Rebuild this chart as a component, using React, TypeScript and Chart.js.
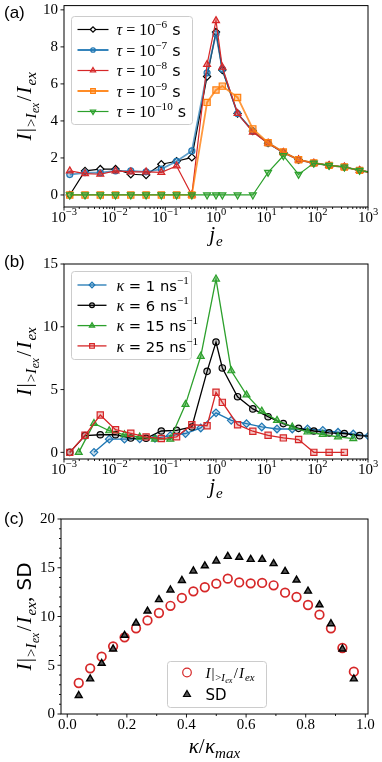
import React, { useEffect, useRef } from 'react';
import { Chart, registerables } from 'chart.js';
import { drawPoint } from 'chart.js/helpers';

Chart.register(...registerables);

// ---------------- data ----------------
// j_e grid used by most series (4/3 * 2^k plus j_e = 1)
const jeA = [0.0013, 0.0026, 0.0052, 0.0104, 0.0208, 0.0417, 0.0833, 0.1667, 0.3333, 0.6667, 1.0, 1.3333,
  2.6667, 5.3333, 10.667, 21.333, 42.667, 85.333, 170.67, 341.33, 682.67, 1365.3];
// power-of-two grids (panel b)
const jeB = [0.00390625, 0.0078125, 0.015625, 0.03125, 0.0625, 0.125, 0.25, 0.5, 1, 2, 4, 8, 16, 32, 64, 128, 256, 512, 1024];
const jeG = [0.001953125, 0.00390625, 0.0078125, 0.015625, 0.03125, 0.0625, 0.125, 0.25, 0.5, 1, 2, 4, 8, 16, 32, 64, 128, 256, 512];

// panel (a)
const tau6 = [0, 1.3, 1.4, 1.4, 1.12, 1.08, 1.66, 1.82, 2.03, 6.4, 8.8, 6.75, 4.4, 3.45, 2.8, 2.3, 1.9, 1.72, 1.6, 1.51, 1.33, 1.17];
const tau7 = [1.1, 1.2, 1.2, 1.3, 1.3, 1.25, 1.4, 1.82, 2.38, 6.6, 8.7, 6.8, 4.4, 3.45, 2.8, 2.3, 1.9, 1.72, 1.6, 1.51, 1.33, 1.17];
const tau8 = [1.3, 1.15, 1.12, 1.3, 1.25, 1.25, 1.22, 1.57, 0, 7.05, 9.42, 6.9, 4.4, 3.4, 2.8, 2.3, 1.9, 1.72, 1.6, 1.51, 1.33, 1.17];
const tau9 = [0, 0, 0, 0, 0, 0, 0, 0, 0, 5.0, 5.67, 5.88, 5.27, 3.57, 2.82, 2.32, 1.9, 1.73, 1.6, 1.51, 1.33, 1.17];
const tau10 = [0, 0, 0, 0, 0, 0, 0, 0, 0, 0, 0, 0, 0, 0, 1.22, 2.12, 1.11, 1.72, 1.6, 1.51, 1.33, 1.17];
const tauExponents = ['−6', '−7', '−8', '−9', '−10'];

// panel (b)
const kap1 = [0, 1.05, 1.05, 1.08, 1.12, 1.33, 1.5, 1.94, 3.15, 2.55, 2.28, 2.02, 1.86, 1.86, 1.86, 1.75, 1.6, 1.46, 1.3];
const kap6 = [0, 1.33, 1.4, 1.41, 1.14, 1.12, 1.7, 1.75, 2.02, 6.45, 8.78, 6.72, 4.43, 3.46, 2.84, 2.29, 1.91, 1.7, 1.55, 1.5, 1.33, 1.25];
const kap15 = [0, 2.3, 1.72, 1.4, 1.22, 1.05, 1.05, 3.82, 7.65, 13.8, 6.5, 4.58, 3.28, 2.55, 2.02, 1.62, 1.42, 1.24, 1.1];
const kap25 = [0, 1.36, 2.97, 1.8, 1.52, 1.23, 1.1, 1.24, 2.2, 2.12, 4.78, 3.98, 2.2, 1.68, 1.36, 1.15, 1.02, 0, 0, 0];
const kappaValues = ['1', '6', '15', '25'];

// panel (c)
const kRel = [0.0385, 0.0769, 0.1154, 0.1538, 0.1923, 0.2308, 0.2692, 0.3077, 0.3462, 0.3846, 0.4231, 0.4615, 0.5,
  0.5385, 0.5769, 0.6154, 0.6538, 0.6923, 0.7308, 0.7692, 0.8077, 0.8462, 0.8846, 0.9231, 0.9615];
const ratioC = [3.18, 4.68, 5.88, 6.94, 7.86, 8.79, 9.6, 10.36, 11.1, 11.9, 12.58, 13.0, 13.37, 13.88, 13.5, 13.4,
  13.44, 13.2, 12.44, 12.0, 11.18, 10.19, 8.79, 6.77, 4.34];
const sdC = [1.9, 3.6, 5.2, 6.67, 8.07, 9.33, 10.56, 11.73, 12.72, 13.7, 14.67, 15.2, 15.7, 16.17, 16.07, 15.86,
  15.86, 15.42, 14.63, 13.74, 12.6, 11.2, 9.26, 6.67, 3.6];

// ticks
const logTickValues = [0.001, 0.01, 0.1, 1, 10, 100, 1000];
const logTickExponents = ['−3', '−2', '−1', '0', '1', '2', '3'];
const yTicksA = [0, 2, 4, 6, 8, 10];
const yTicksB = [0, 5, 10, 15];
const yTicksC = [0, 5, 10, 15, 20];
const xTicksC = [0, 0.2, 0.4, 0.6, 0.8, 1.0];
const xTickLabelsC = ['0.0', '0.2', '0.4', '0.6', '0.8', '1.0'];

// ---------------- text helpers ----------------
const SERIF = '"Liberation Serif", "DejaVu Serif", serif';
const SANS = '"DejaVu Sans", "Liberation Sans", sans-serif';
const HELV = '"Liberation Sans", Arial, sans-serif';

type Seg = { t: string; f: 'i' | 'r' | 's'; k?: number; dy?: number; g?: number };

function segFont(s: Seg, size: number) {
  const px = size * (s.k ?? 1);
  if (s.f === 'i') return `italic ${px}px ${SERIF}`;
  if (s.f === 'r') return `${px}px ${SERIF}`;
  return `${px}px ${SANS}`;
}
function richWidth(ctx: CanvasRenderingContext2D, segs: Seg[], size: number) {
  let w = 0;
  for (const s of segs) { ctx.font = segFont(s, size); w += ctx.measureText(s.t).width + (s.g ?? 0) * size; }
  return w;
}
function drawRich(ctx: CanvasRenderingContext2D, segs: Seg[], size: number, x: number, y: number, align: string) {
  const w = richWidth(ctx, segs, size);
  let cx = align === 'center' ? x - w / 2 : align === 'right' ? x - w : x;
  ctx.textAlign = 'left';
  ctx.textBaseline = 'alphabetic';
  for (const s of segs) {
    ctx.font = segFont(s, size);
    ctx.fillText(s.t, cx, y + (s.dy ?? 0) * size);
    cx += ctx.measureText(s.t).width + (s.g ?? 0) * size;
  }
}
const sup = (t: string): Seg => ({ t, f: 'r', k: 0.7, dy: -0.42 });
const IEX: Seg[] = [
  { t: 'I', f: 'i', g: 0.06 }, { t: '|', f: 'r', g: 0.05 }, { t: '>', f: 'r', k: 0.72, dy: 0.24 },
  { t: 'I', f: 'i', k: 0.72, dy: 0.24, g: 0.02 }, { t: 'ex', f: 'i', k: 0.55, dy: 0.36, g: 0.08 },
  { t: '/', f: 'r', g: 0.08 }, { t: 'I', f: 'i', g: 0.06 }, { t: 'ex', f: 'i', k: 0.72, dy: 0.24 },
];
const JE: Seg[] = [{ t: 'j', f: 'i', g: 0.04 }, { t: 'e', f: 'i', k: 0.72, dy: 0.24 }];
const KAPPA_REL: Seg[] = [{ t: 'κ', f: 'i' }, { t: '/', f: 'r', g: 0.02 }, { t: 'κ', f: 'i' }, { t: 'max', f: 'i', k: 0.72, dy: 0.24 }];

// ---------------- decoration plugin ----------------
type LegItem = { segs: Seg[]; color: string; fill: string; style: any; rot?: number; r: number; lw: number; line: boolean };
type LegendCfg = {
  dx: number; dy: number; w: number; h: number; row0: number; step: number;
  s0: number; s1: number; mx: number; tx: number; size: number; items: LegItem[];
};
type DecorCfg = {
  tag: string; tagY: number;
  xMajors: number[]; xMinors: number[]; xTickSegs: Seg[][]; xTickBase: number;
  yMajors: number[]; yMinors: number[]; yTickLabels: string[];
  xTitle: Seg[]; xTitleBase: number; yTitle: Seg[]; yTitleX: number; titleSize: number;
  legend: LegendCfg;
};

const TICK = 15;

function makeDecor(cfg: DecorCfg) {
  return {
    id: 'decor',
    afterDraw(chart: any) {
      const { ctx, chartArea: ca, scales } = chart;
      const xs = scales.x, ys = scales.y;
      ctx.save();
      // frame
      ctx.strokeStyle = '#000';
      ctx.lineWidth = 1;
      ctx.strokeRect(ca.left, ca.top, ca.right - ca.left, ca.bottom - ca.top);
      // ticks
      ctx.lineWidth = 0.9;
      ctx.beginPath();
      for (const v of cfg.xMajors) { const p = xs.getPixelForValue(v); ctx.moveTo(p, ca.bottom); ctx.lineTo(p, ca.bottom + 3.5); }
      for (const v of cfg.xMinors) { const p = xs.getPixelForValue(v); ctx.moveTo(p, ca.bottom); ctx.lineTo(p, ca.bottom + 2); }
      for (const v of cfg.yMajors) { const p = ys.getPixelForValue(v); ctx.moveTo(ca.left, p); ctx.lineTo(ca.left - 3.5, p); }
      for (const v of cfg.yMinors) { const p = ys.getPixelForValue(v); ctx.moveTo(ca.left, p); ctx.lineTo(ca.left - 2, p); }
      ctx.stroke();
      ctx.fillStyle = '#000';
      cfg.xMajors.forEach((v, i) => {
        drawRich(ctx, cfg.xTickSegs[i], TICK, xs.getPixelForValue(v), ca.bottom + cfg.xTickBase, 'center');
      });
      ctx.font = `${TICK}px ${SERIF}`;
      ctx.textAlign = 'right';
      ctx.textBaseline = 'middle';
      cfg.yMajors.forEach((v, i) => { ctx.fillText(cfg.yTickLabels[i], ca.left - 6, ys.getPixelForValue(v) + 0.5); });
      // titles
      drawRich(ctx, cfg.xTitle, cfg.titleSize, (ca.left + ca.right) / 2, ca.bottom + cfg.xTitleBase, 'center');
      ctx.save();
      ctx.translate(cfg.yTitleX, (ca.top + ca.bottom) / 2);
      ctx.rotate(-Math.PI / 2);
      drawRich(ctx, cfg.yTitle, cfg.titleSize, 0, 0, 'center');
      ctx.restore();
      // panel tag
      ctx.font = `17px ${HELV}`;
      ctx.textAlign = 'left';
      ctx.textBaseline = 'alphabetic';
      ctx.fillText(cfg.tag, 4, cfg.tagY);
      // legend
      const L = cfg.legend;
      const bx = Math.round(ca.left + L.dx) + 0.5, by = Math.round(ca.top + L.dy) + 0.5;
      ctx.beginPath();
      (ctx as any).roundRect(bx, by, L.w, L.h, 3);
      ctx.fillStyle = 'rgba(255,255,255,0.85)';
      ctx.fill();
      ctx.strokeStyle = '#cccccc';
      ctx.lineWidth = 1;
      ctx.stroke();
      L.items.forEach((it, i) => {
        const y = by + L.row0 + i * L.step;
        if (it.line) {
          ctx.strokeStyle = it.color;
          ctx.lineWidth = it.lw;
          ctx.beginPath();
          ctx.moveTo(bx + L.s0, y);
          ctx.lineTo(bx + L.s1, y);
          ctx.stroke();
        }
        ctx.fillStyle = it.fill;
        ctx.strokeStyle = it.color;
        ctx.lineWidth = 1.2;
        drawPoint(ctx, { pointStyle: it.style, radius: it.r, rotation: it.rot ?? 0, borderWidth: 1.2 } as any, bx + L.mx, y);
        ctx.fillStyle = '#000';
        drawRich(ctx, it.segs, L.size, bx + L.tx, y + L.size * 0.35, 'left');
      });
      ctx.restore();
    },
  };
}

// ---------------- helpers ----------------
const pts = (xs: number[], ys: number[]) => ys.map((y, i) => ({ x: xs[i], y }));

const logMinors: number[] = [];
for (let d = -3; d < 3; d++) for (let k = 2; k <= 9; k++) logMinors.push(k * Math.pow(10, d));
const logTickSegs: Seg[][] = logTickExponents.map((e) => [{ t: '10', f: 'r' }, sup(e)]);
const minorC_x: number[] = [];
for (let i = 1; i < 10; i += 2) minorC_x.push(i / 10);
const minorC_y: number[] = [];
for (let i = 0; i <= 20; i++) if (i % 5 !== 0) minorC_y.push(i);

const BLUE = '#1f77b4', ORANGE = '#ff7f0e', GREEN = '#2ca02c', RED = '#d62728';

function lineDs(label: string, data: any[], color: string, fill: string, style: string, r: number, order: number, lw = 1.3, rot = 0) {
  return {
    label, data, borderColor: color, backgroundColor: fill, pointBackgroundColor: fill, pointBorderColor: color,
    pointStyle: style, pointRadius: r, pointBorderWidth: 1.2, pointRotation: rot, borderWidth: lw, order, tension: 0,
  };
}

function baseOptions(padding: any, x: any, y: any) {
  return {
    animation: false, responsive: false, maintainAspectRatio: false, devicePixelRatio: 1,
    layout: { padding },
    plugins: { legend: { display: false }, tooltip: { enabled: false } },
    scales: { x: { ...x, display: false }, y: { ...y, display: false } },
    events: [],
  };
}

const tauColors = ['#000000', BLUE, RED, ORANGE, GREEN];
const tauFills = ['#ffffff', 'rgba(31,119,180,0.35)', 'rgba(214,39,40,0.35)', 'rgba(255,127,14,0.4)', 'rgba(44,160,44,0.4)'];
const tauStyles = ['rectRot', 'circle', 'triangle', 'rect', 'triangle'];
const tauRot = [0, 0, 0, 0, 180];
const tauR = [3.6, 3, 4, 4.4, 4];
const tauLw = [1.2, 1.8, 1.2, 1.8, 1.2];
const tauLineColors = ['#000000', 'rgba(31,119,180,0.7)', RED, 'rgba(255,127,14,0.8)', GREEN];

const TITLE = 21;

function configA() {
  const series = [tau6, tau7, tau8, tau9, tau10];
  const datasets = series.map((s, i) =>
    lineDs('tau' + i, pts(jeA, s), tauLineColors[i], tauFills[i], tauStyles[i], tauR[i], 4 - i, tauLw[i], tauRot[i]));
  datasets.forEach((d: any, i) => { d.pointBorderColor = tauColors[i]; });
  const decor = makeDecor({
    tag: '(a)', tagY: 18,
    xMajors: logTickValues, xMinors: logMinors, xTickSegs: logTickSegs, xTickBase: 14.5,
    yMajors: yTicksA, yMinors: [], yTickLabels: yTicksA.map(String),
    xTitle: JE, xTitleBase: 34, yTitle: IEX, yTitleX: 31, titleSize: TITLE,
    legend: {
      dx: 7, dy: 10, w: 121, h: 108, row0: 13, step: 20.5, s0: 6, s1: 37, mx: 21.5, tx: 45, size: 16,
      items: tauExponents.map((e, i) => ({
        segs: [{ t: 'τ', f: 'i' }, { t: ' = 10', f: 'r' }, sup(e), { t: ' s', f: 's' }] as Seg[],
        color: tauColors[i], fill: tauFills[i], style: tauStyles[i], rot: tauRot[i], r: tauR[i] * 0.75,
        lw: tauLw[i], line: true,
      })),
    },
  });
  return {
    type: 'line',
    data: { datasets },
    options: baseOptions({ left: 64, right: 14, top: 5, bottom: 43 },
      { type: 'logarithmic', min: 0.001, max: 1000 }, { type: 'linear', min: -0.65, max: 10.23 }),
    plugins: [decor],
  };
}

const kapColors = [BLUE, '#000000', GREEN, RED];
const kapFills = ['rgba(31,119,180,0.25)', 'rgba(0,0,0,0.2)', 'rgba(44,160,44,0.45)', 'rgba(214,39,40,0.25)'];
const kapStyles = ['rectRot', 'circle', 'triangle', 'rect'];
const kapR = [3.8, 3.2, 4, 4.4];

function configB() {
  const series = [pts(jeB, kap1), pts(jeA, kap6), pts(jeG, kap15), pts(jeA, kap25)];
  const datasets = series.map((s, i) => lineDs('kap' + i, s, kapColors[i], kapFills[i], kapStyles[i], kapR[i], 3 - i));
  const decor = makeDecor({
    tag: '(b)', tagY: 17,
    xMajors: logTickValues, xMinors: logMinors, xTickSegs: logTickSegs, xTickBase: 14.5,
    yMajors: yTicksB, yMinors: [], yTickLabels: yTicksB.map(String),
    xTitle: JE, xTitleBase: 34, yTitle: IEX, yTitleX: 31, titleSize: TITLE,
    legend: {
      dx: 7, dy: 7, w: 120, h: 88, row0: 13.5, step: 20.3, s0: 6, s1: 35, mx: 20.5, tx: 45, size: 16,
      items: kappaValues.map((v, i) => ({
        segs: [{ t: 'κ', f: 'i' }, { t: ' = ' + v + ' ns', f: 's', k: 0.92 }, sup('−1')] as Seg[],
        color: kapColors[i], fill: kapFills[i], style: kapStyles[i], r: kapR[i] * 0.75, lw: 1.3, line: true,
      })),
    },
  });
  return {
    type: 'line',
    data: { datasets },
    options: baseOptions({ left: 64, right: 14, top: 14, bottom: 47 },
      { type: 'logarithmic', min: 0.001, max: 1000 }, { type: 'linear', min: -0.53, max: 15 }),
    plugins: [decor],
  };
}

function configC() {
  const datasets = [
    {
      label: 'ratio', data: pts(kRel, ratioC), showLine: false, pointStyle: 'circle', pointRadius: 4.3,
      pointBorderWidth: 1.7, pointBorderColor: RED, pointBackgroundColor: 'rgba(255,255,255,0)', order: 1,
    },
    {
      label: 'SD', data: pts(kRel, sdC), showLine: false, pointStyle: 'triangle', pointRadius: 4,
      pointBorderWidth: 1.4, pointBorderColor: '#000', pointBackgroundColor: '#555', order: 0,
    },
  ];
  const decor = makeDecor({
    tag: '(c)', tagY: 18,
    xMajors: xTicksC, xMinors: minorC_x, xTickSegs: xTickLabelsC.map((t) => [{ t, f: 'r' } as Seg]), xTickBase: 15,
    yMajors: yTicksC, yMinors: minorC_y, yTickLabels: yTicksC.map(String),
    xTitle: KAPPA_REL, xTitleBase: 39,
    yTitle: [...IEX, { t: ', ', f: 'r', g: 0.05 }, { t: 'SD', f: 's', k: 0.95 }],
    yTitleX: 31, titleSize: TITLE,
    legend: {
      dx: 106, dy: 142, w: 99, h: 46, row0: 11, step: 22, s0: 0, s1: 0, mx: 19.5, tx: 38, size: 15,
      items: [
        { segs: IEX, color: RED, fill: 'rgba(255,255,255,0)', style: 'circle', r: 4.3, lw: 1.7, line: false },
        { segs: [{ t: 'SD', f: 's' }], color: '#000', fill: '#555', style: 'triangle', r: 4, lw: 1.4, line: false },
      ],
    },
  });
  return {
    type: 'scatter',
    data: { datasets },
    options: baseOptions({ left: 61, right: 14, top: 13, bottom: 48 },
      { type: 'linear', min: -0.021, max: 1.009 }, { type: 'linear', min: 0, max: 20 }),
    plugins: [decor],
  };
}

function Panel({ top, height, make }: { top: number; height: number; make: () => any }) {
  const ref = useRef<HTMLCanvasElement>(null);
  useEffect(() => {
    const chart = new Chart(ref.current as HTMLCanvasElement, make());
    return () => chart.destroy();
  }, []);
  return (
    <canvas ref={ref} width={382} height={height}
      style={{ position: 'absolute', left: 0, top, width: 382, height, display: 'block' }} />
  );
}

export default function App() {
  return (
    <div style={{ position: 'absolute', left: 0, top: 0, width: 382, height: 762, background: '#fff', overflow: 'hidden' }}>
      <Panel top={0} height={250} make={configA} />
      <Panel top={250} height={256} make={configB} />
      <Panel top={506} height={256} make={configC} />
    </div>
  );
}
